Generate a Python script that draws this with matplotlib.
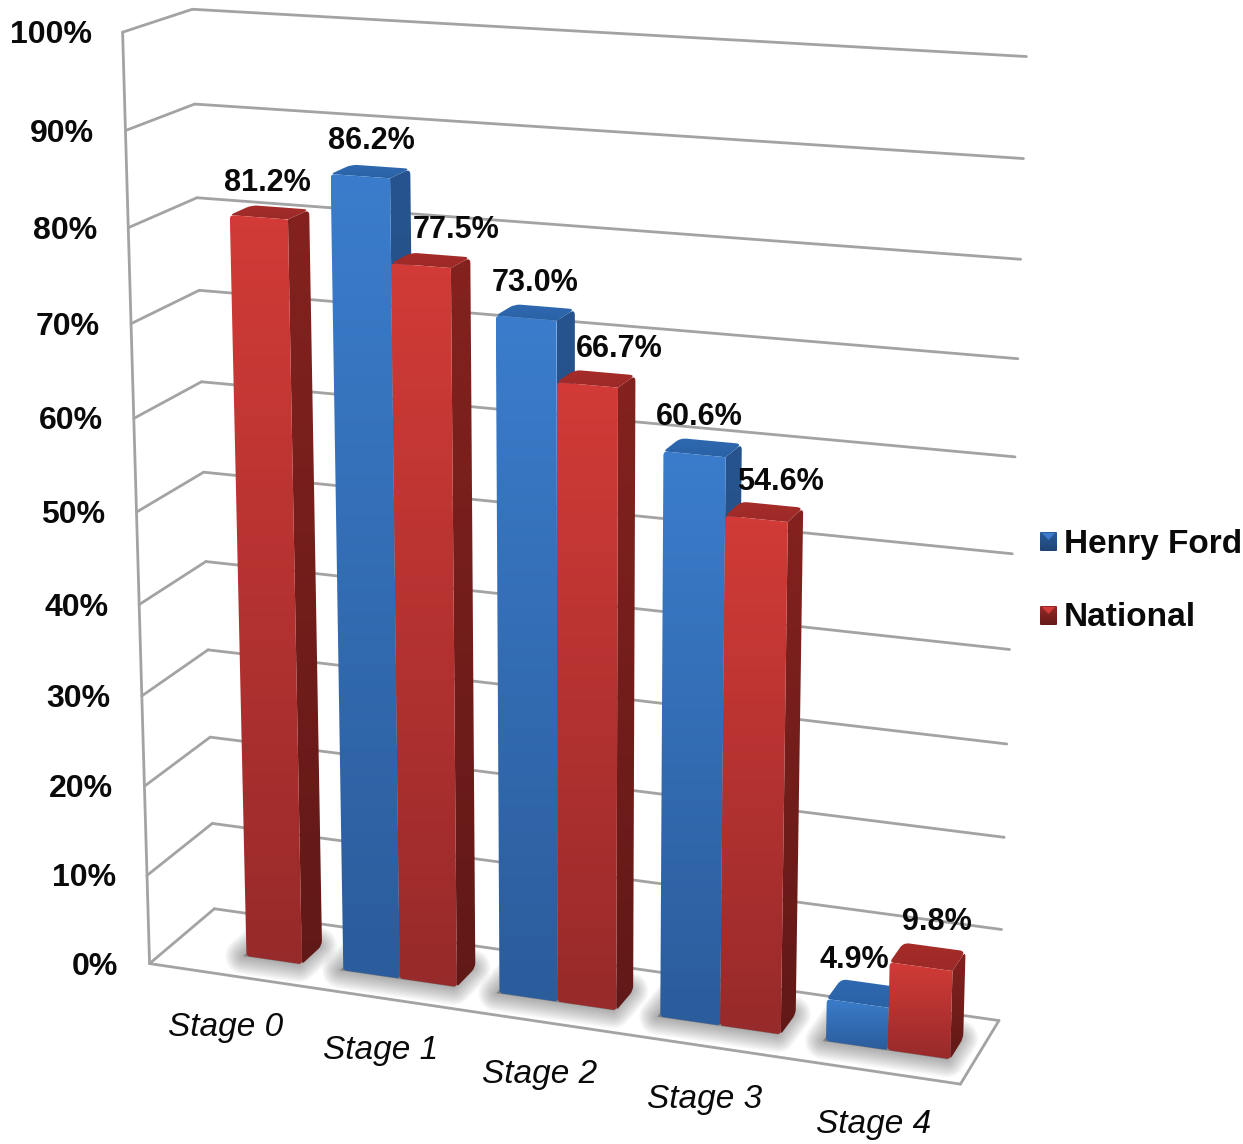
import numpy as np
import matplotlib
matplotlib.use("Agg")
import matplotlib.pyplot as plt
from matplotlib.path import Path
from matplotlib.patches import PathPatch, Polygon

plt.rcParams['font.family'] = ['Liberation Sans', 'DejaVu Sans']

# Chart data
stages = ["Stage 0", "Stage 1", "Stage 2", "Stage 3", "Stage 4"]
henry_ford = [None, 86.2, 73.0, 60.6, 4.9]
national = [81.2, 77.5, 66.7, 54.6, 9.8]
value_ticks = list(range(0, 101, 10))
series_names = ["Henry Ford", "National"]

# Camera of the 3-D scene: (stage, value, depth) -> canvas pixel
CAMERA_REFS = [
    ((0, 0, 0), (150, 963)), ((0, 100, 0), (122, 32)),
    ((0, 0, 1), (214, 909)), ((0, 100, 1), (193, 9)),
    ((5, 0, 1), (999, 1020)), ((5, 100, 1), (1026, 57)),
    ((5, 0, 0), (960, 1085)), ((5, 50, 1), (1013, 553)),
    ((0, 50, 1), (203, 473)), ((0, 50, 0), (137, 512)),
]


def solve_camera(refs):
    rows = []
    for (u, v, d), (x, y) in refs:
        w = [u, v, d, 1]
        rows.append(w + [0, 0, 0, 0] + [-x * c for c in w])
        rows.append([0, 0, 0, 0] + w + [-y * c for c in w])
    return np.linalg.svd(np.array(rows, float))[2][-1].reshape(3, 4)


CAM = solve_camera(CAMERA_REFS)


def proj(u, v, d):
    p = CAM @ np.array([u, v, d, 1.0])
    return p[0] / p[2], p[1] / p[2]


fig = plt.figure(figsize=(12.43, 11.44), dpi=100)
ax = fig.add_axes([0, 0, 1, 1])
ax.axis("off")

GRID = "#a3a3a3"
GRID_LW = 2.0
INK = "#0a0a0a"


def seg(a, b, z=1):
    pa, pb = proj(*a), proj(*b)
    ax.plot([pa[0], pb[0]], [pa[1], pb[1]], color=GRID, lw=GRID_LW, zorder=z,
            solid_capstyle="round")


for t in value_ticks:
    seg((0, t, 1), (5, t, 1))
    seg((0, t, 0), (0, t, 1))
    x, y = proj(0, t, 0)
    ax.text(x - 31, y + 3, f"{t}%", ha="right", va="center", fontsize=23,
            fontweight="bold", color=INK, zorder=20)
seg((0, 0, 0), (0, 100, 0))
seg((0, 0, 0), (5, 0, 0), z=2)
seg((5, 0, 0), (5, 0, 1), z=2)


def rounded(points, radii):
    """Closed path through the polygon with each corner eased by its own radius."""
    pts = [np.array(p, float) for p in points]
    n = len(pts)
    verts, codes = [], []
    for i, p in enumerate(pts):
        a, b = pts[i - 1], pts[(i + 1) % n]
        la, lb = np.linalg.norm(a - p), np.linalg.norm(b - p)
        r = radii[i]
        s = p + (a - p) * min(r, la / 2) / la
        e = p + (b - p) * min(r, lb / 2) / lb
        verts += [s, p, e]
        codes += [Path.MOVETO if i == 0 else Path.LINETO, Path.CURVE3, Path.CURVE3]
    verts.append(verts[0])
    codes.append(Path.CLOSEPOLY)
    return Path(np.array(verts), codes)


def gradient_face(points, top, bottom, z, radii):
    pts = np.array(points)
    c0, c1 = np.array(matplotlib.colors.to_rgb(top)), np.array(matplotlib.colors.to_rgb(bottom))
    ramp = np.linspace(0, 1, 256)[:, None, None] * (c1 - c0)[None, None, :] + c0[None, None, :]
    im = ax.imshow(ramp, extent=(pts[:, 0].min(), pts[:, 0].max(), pts[:, 1].max(), pts[:, 1].min()),
                   aspect="auto", zorder=z, interpolation="bilinear")
    patch = PathPatch(rounded(points, radii), transform=ax.transData, fc="none", ec="none")
    ax.add_patch(patch)
    im.set_clip_path(patch)


PALETTE = {
    "Henry Ford": dict(front=("#3b7dcc", "#2b5c9b"), side=("#27548f", "#1f4476"), top=("#2f69b0", "#2a62a6")),
    "National": dict(front=("#d23b37", "#972a2a"), side=("#84221f", "#611917"), top=("#a62c29", "#9c2a28")),
}

BAR_W = 0.365
D0, D1 = 0.33, 0.66
BEVEL_PX = 3  # the bevelled top edge sits slightly under the nominal height


def draw_shadow(u0, u1, z=3):
    foot = [proj(u0, 0, D0), proj(u1, 0, D0), proj(u1, 0, D1), proj(u0, 0, D1)]
    foot = [(x - 3, y) for x, y in foot]
    for lw in np.linspace(26, 2, 12):
        ax.add_patch(Polygon(foot, closed=True, fc="#4a4a4a", ec="#4a4a4a", lw=lw,
                             alpha=0.045, joinstyle="round", zorder=z))


def top_corner(u, value, d):
    x, y = proj(u, value, d)
    return x, y + BEVEL_PX


def draw_bar(u0, u1, value, name, z):
    style = PALETTE[name]
    fl, fr = proj(u0, 0, D0), proj(u1, 0, D0)
    br = proj(u1, 0, D1)
    tfl, tfr = top_corner(u0, value, D0), top_corner(u1, value, D0)
    tbr, tbl = top_corner(u1, value, D1), top_corner(u0, value, D1)
    gradient_face([tfr, tbr, br, fr], *style["side"], z, [0, 6, 5, 3])
    gradient_face([tfl, tbl, tbr, tfr], *style["top"], z + 0.1, [4, 6, 6, 0])
    gradient_face([tfl, tfr, fr, fl], *style["front"], z + 0.2, [4, 0, 3, 3])


# Hand placement of the value labels around their bars
LABEL_NUDGE_HF = [None, (1, 0), (0, 1), (-4, -1), (-10, -3)]
LABEL_NUDGE_NAT = [(-2, 1), (25, 0), (23, 0), (16, 0), (9, -5)]

for k, stage in enumerate(stages):
    mid = k + 0.5
    left = mid - BAR_W if henry_ford[k] is not None else mid
    draw_shadow(left, mid + BAR_W)
    z = 5 + k
    for offset, vals, name, nudge in ((-BAR_W, henry_ford, series_names[0], LABEL_NUDGE_HF),
                                      (0, national, series_names[1], LABEL_NUDGE_NAT)):
        val = vals[k]
        if val is None:
            continue
        draw_bar(mid + offset, mid + offset + BAR_W, val, name, z)
        z += 0.3
        x, y = proj(mid + offset + BAR_W / 2, val, (D0 + D1) / 2)
        ax.text(x + nudge[k][0], y - 27 + nudge[k][1], f"{val:.1f}%", ha="center", va="center",
                fontsize=22, fontweight="bold", color=INK, zorder=30)
    x, y = proj(mid, 0, 0)
    ax.text(x, y + 53, stage, ha="center", va="center", fontsize=24, style="italic",
            color=INK, zorder=20)

# Legend with bevelled swatches
for i, name in enumerate(series_names):
    top_y = 532 + 74 * i
    style = PALETTE[name]
    gradient_face([(1040, top_y), (1057, top_y), (1057, top_y + 19), (1040, top_y + 19)],
                  style["front"][1], style["side"][1], 40, [1, 1, 1, 1])
    ax.add_patch(Polygon([(1042, top_y + 1), (1055, top_y + 1), (1048.5, top_y + 8)], closed=True,
                         fc=style["front"][0], ec="none", zorder=41))
    ax.text(1064, top_y + 12, name, ha="left", va="center", fontsize=24, fontweight="bold",
            color=INK, zorder=42)

ax.set_xlim(0, 1243)
ax.set_ylim(1144, 0)
fig.savefig("out.png", dpi=100, facecolor="white")
